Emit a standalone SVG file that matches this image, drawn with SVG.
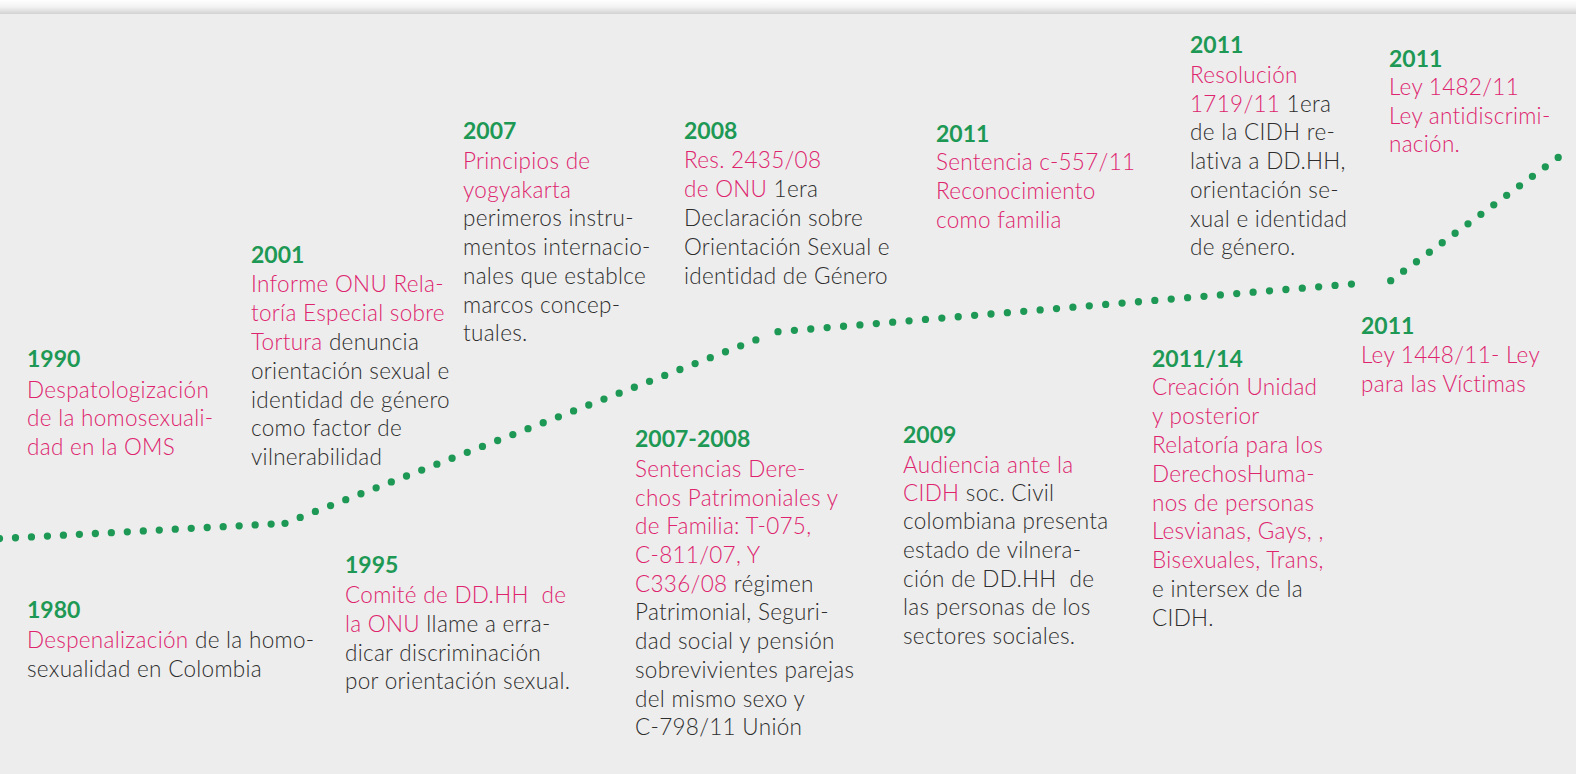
<svg xmlns="http://www.w3.org/2000/svg" width="1576" height="774" viewBox="0 0 1576 774">
<defs>
<linearGradient id="topShade" x1="0" y1="0" x2="0" y2="1">
<stop offset="0" stop-color="#ffffff"/>
<stop offset="0.5" stop-color="#f2f2f2"/>
<stop offset="1" stop-color="#d2d2d2"/>
</linearGradient>
</defs>
<style>
text{font-family:"Lato","Liberation Sans",sans-serif;font-size:22.5px;letter-spacing:0.3px;font-weight:300;fill:#2e2e2e}
.y{font-size:23px;letter-spacing:0;font-weight:700;fill:#1e9955}
.p{fill:#de246d}
.dots{fill:none;stroke:#1e9955;stroke-width:7.3;stroke-linecap:round}
</style>
<rect x="0" y="0" width="1576" height="774" fill="#ededed"/>
<rect x="0" y="0" width="1576" height="14" fill="url(#topShade)"/>
<g id="connectors">
<path class="dots" d="M-0.5,538.6 L273,524" stroke-dasharray="0 16"/>
<path class="dots" d="M285,523.3 L757,339.5" stroke-dasharray="0 16.3"/>
<path class="dots" d="M778,331.7 L1367.7,282.7" stroke-dasharray="0 16.44"/>
<path class="dots" d="M1390.7,280.7 L1558.3,157.3" stroke-dasharray="0 16"/>
</g>
<g id="n1980">
<text x="27" y="618" class="y">1980</text>
<text x="27" y="647.5"><tspan class="p">Despenalización</tspan> de la homo-</text>
<text x="27" y="676.5">sexualidad en Colombia</text>
</g>
<g id="n1990">
<text x="27" y="367" class="y">1990</text>
<text x="27" y="397.5" class="p">Despatologización</text>
<text x="27" y="426" class="p">de la homosexuali-</text>
<text x="27" y="454.5" class="p">dad en la OMS</text>
</g>
<g id="n2001">
<text x="251" y="262.7" class="y">2001</text>
<text x="251" y="291.7" class="p">Informe ONU Rela-</text>
<text x="251" y="320.7" class="p">toría Especial sobre</text>
<text x="251" y="349.7"><tspan class="p">Tortura</tspan> denuncia</text>
<text x="251" y="378.5">orientación sexual e</text>
<text x="251" y="407.5">identidad de género</text>
<text x="251" y="436.3">como factor de</text>
<text x="251" y="465">vilnerabilidad</text>
</g>
<g id="n1995">
<text x="345" y="572.7" class="y">1995</text>
<text x="345" y="603.3" class="p">Comité de DD.HH&#160; de</text>
<text x="345" y="631.7"><tspan class="p">la ONU</tspan> llame a erra-</text>
<text x="345" y="660.5">dicar discriminación</text>
<text x="345" y="689">por orientación sexual.</text>
</g>
<g id="n2007">
<text x="463" y="139.3" class="y">2007</text>
<text x="463" y="169" class="p">Principios de</text>
<text x="463" y="197.5" class="p">yogyakarta</text>
<text x="463" y="226.3">perimeros instru-</text>
<text x="463" y="255">mentos internacio-</text>
<text x="463" y="284">nales que establce</text>
<text x="463" y="312.7">marcos concep-</text>
<text x="463" y="341">tuales.</text>
</g>
<g id="n2008">
<text x="684" y="139.3" class="y">2008</text>
<text x="684" y="167.7" class="p">Res. 2435/08</text>
<text x="684" y="196.7"><tspan class="p">de ONU</tspan> 1era</text>
<text x="684" y="225.7">Declaración sobre</text>
<text x="684" y="254.7">Orientación Sexual e</text>
<text x="684" y="283.5">identidad de Género</text>
</g>
<g id="n2007-2008">
<text x="635" y="447.3" class="y">2007-2008</text>
<text x="635" y="477.3" class="p">Sentencias Dere-</text>
<text x="635" y="505.7" class="p">chos Patrimoniales y</text>
<text x="635" y="534" class="p">de Familia: T-075,</text>
<text x="635" y="562.7" class="p">C-811/07, Y</text>
<text x="635" y="591.7"><tspan class="p">C336/08</tspan> régimen</text>
<text x="635" y="620.3">Patrimonial, Seguri-</text>
<text x="635" y="649.3">dad social y pensión</text>
<text x="635" y="678">sobrevivientes parejas</text>
<text x="635" y="706.7">del mismo sexo y</text>
<text x="635" y="735.3">C-798/11 Unión</text>
</g>
<g id="n2009">
<text x="903" y="442.7" class="y">2009</text>
<text x="903" y="472.7" class="p">Audiencia ante la</text>
<text x="903" y="500.5"><tspan class="p">CIDH</tspan> soc. Civil</text>
<text x="903" y="529.3">colombiana presenta</text>
<text x="903" y="558">estado de vilnera-</text>
<text x="903" y="586.7">ción de DD.HH&#160; de</text>
<text x="903" y="615">las personas de los</text>
<text x="903" y="643.5">sectores sociales.</text>
</g>
<g id="n2011-sentencia">
<text x="936" y="141.7" class="y">2011</text>
<text x="936" y="170" class="p">Sentencia c-557/11</text>
<text x="936" y="199" class="p">Reconocimiento</text>
<text x="936" y="228" class="p">como familia</text>
</g>
<g id="n2011-resolucion">
<text x="1190" y="53.3" class="y">2011</text>
<text x="1190" y="83" class="p">Resolución</text>
<text x="1190" y="111.7"><tspan class="p">1719/11</tspan> 1era</text>
<text x="1190" y="140.3">de la CIDH re-</text>
<text x="1190" y="169">lativa a DD.HH,</text>
<text x="1190" y="198">orientación se-</text>
<text x="1190" y="226.7">xual e identidad</text>
<text x="1190" y="255.3">de género.</text>
</g>
<g id="n2011-ley1482">
<text x="1389" y="66.7" class="y">2011</text>
<text x="1389" y="95" class="p">Ley 1482/11</text>
<text x="1389" y="123.5" class="p">Ley antidiscrimi-</text>
<text x="1389" y="152.3" class="p">nación.</text>
</g>
<g id="n2011-14">
<text x="1152" y="366.7" class="y">2011/14</text>
<text x="1152" y="395" class="p">Creación Unidad</text>
<text x="1152" y="424" class="p">y posterior</text>
<text x="1152" y="452.7" class="p">Relatoría para los</text>
<text x="1152" y="481.5" class="p">DerechosHuma-</text>
<text x="1152" y="510.5" class="p">nos de personas</text>
<text x="1152" y="539.3" class="p">Lesvianas, Gays, ,</text>
<text x="1152" y="568.3" class="p">Bisexuales, Trans,</text>
<text x="1152" y="597">e intersex de la</text>
<text x="1152" y="625.7">CIDH.</text>
</g>
<g id="n2011-ley1448">
<text x="1361" y="334.3" class="y">2011</text>
<text x="1361" y="363.3" class="p">Ley 1448/11- Ley</text>
<text x="1361" y="392.3" class="p">para las Víctimas</text>
</g>
</svg>
